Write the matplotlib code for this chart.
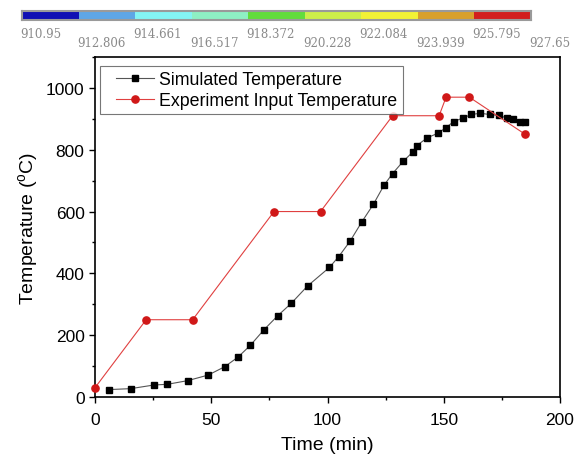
import numpy as np
import matplotlib
matplotlib.use('Agg')
from matplotlib import pyplot as plt
from matplotlib.ticker import MultipleLocator
from matplotlib.legend_handler import HandlerLine2D

plt.rcParams['font.family'] = ['Liberation Sans', 'DejaVu Sans']

# simulated temperature (black squares)
t_sim = [6.0, 15.3, 25.5, 31.1, 39.9, 48.7, 55.8, 61.5, 66.8, 72.6, 78.6, 84.4,
         91.4, 100.8, 104.8, 109.7, 114.8, 119.7, 124.3, 128.0, 132.5, 136.6,
         138.3, 143.0, 147.7, 150.8, 154.3, 158.3, 161.9, 165.7, 169.7, 173.6,
         177.1, 179.9, 182.8, 185.0]
T_sim = [24, 27, 39, 41, 53, 71, 98, 129, 167, 217, 263, 303,
         359, 419, 454, 504, 567, 623, 685, 723, 762, 792,
         813, 839, 854, 871, 891, 903, 914, 918, 914, 911,
         903, 898, 889, 889]

# experiment input temperature (red circles)
t_exp = [0, 22, 42, 77, 97, 128, 148, 151, 161, 185]
T_exp = [30, 250, 250, 600, 600, 910, 910, 970, 970, 850]

# colour legend strip on top
cbar_labels = ['910.95', '912.806', '914.661', '916.517', '918.372',
               '920.228', '922.084', '923.939', '925.795', '927.65']
cbar_colors = ['#1010b4', '#5ea6e6', '#84f4f4', '#8ef0c4', '#62dc3c',
               '#cdee4a', '#f2f236', '#d8a02c', '#d21e1e']

fig = plt.figure(figsize=(5.8, 4.56), dpi=100)

# colour strip
cax = fig.add_axes([22/580, 1-21/456, 509/580, 9/456])
for i, c in enumerate(cbar_colors):
    cax.bar(i, 1, width=1, align='edge', color=c, edgecolor='none')
cax.set_xlim(0, len(cbar_colors))
cax.set_ylim(0, 1)
cax.set_xticks([])
cax.set_yticks([])
for s in cax.spines.values():
    s.set_color('#9a9a9a')
    s.set_linewidth(1.5)
for i, lab in enumerate(cbar_labels):
    y = -0.75 if i % 2 == 0 else -1.75
    cax.text(i - 0.03, y, lab, ha='left', va='top', fontsize=8.5, color='#8a8a8a',
             family=['DejaVu Serif'], clip_on=False)

ax = fig.add_axes([95/580, 1-398/456, 465/580, 340/456])
l1, = ax.plot(t_sim, T_sim, '-s', color='#555555', lw=0.8, ms=4.6, mfc='black',
              mec='black', label='Simulated Temperature')
l2, = ax.plot(t_exp, T_exp, '-o', color='#e04040', lw=0.8, ms=5.2, mfc='#d01818',
              mec='#d01818', label='Experiment Input Temperature', clip_on=False, zorder=3)

ax.set_xlim(0, 200)
ax.set_ylim(0, 1100)
ax.xaxis.set_major_locator(MultipleLocator(50))
ax.xaxis.set_minor_locator(MultipleLocator(25))
ax.yaxis.set_major_locator(MultipleLocator(200))
ax.yaxis.set_minor_locator(MultipleLocator(100))
ax.tick_params(which='both', direction='out', top=False, right=False,
               labelsize=12.5)
ax.tick_params(which='major', length=4, width=1)
ax.tick_params(which='minor', length=2.5, width=1)
ax.tick_params(axis='x', pad=7)
for s in ax.spines.values():
    s.set_linewidth(1.2)

ax.set_xlabel('Time (min)', fontsize=14, labelpad=6.5)
ax.set_ylabel(r'Temperature ($\mathregular{^o}$C)', fontsize=14, labelpad=4)

hl = HandlerLine2D(xpad=0.62)
leg = ax.legend(loc='upper left', bbox_to_anchor=(5/465, 1-9/340),
                fontsize=12.8, frameon=True, fancybox=False,
                edgecolor='#555555', borderaxespad=0, handlelength=2.75,
                borderpad=0.3, labelspacing=0.2, handletextpad=0.28,
                handler_map={l1: hl, l2: hl})
leg.get_frame().set_linewidth(0.8)

fig.savefig('out.png', dpi=100)
